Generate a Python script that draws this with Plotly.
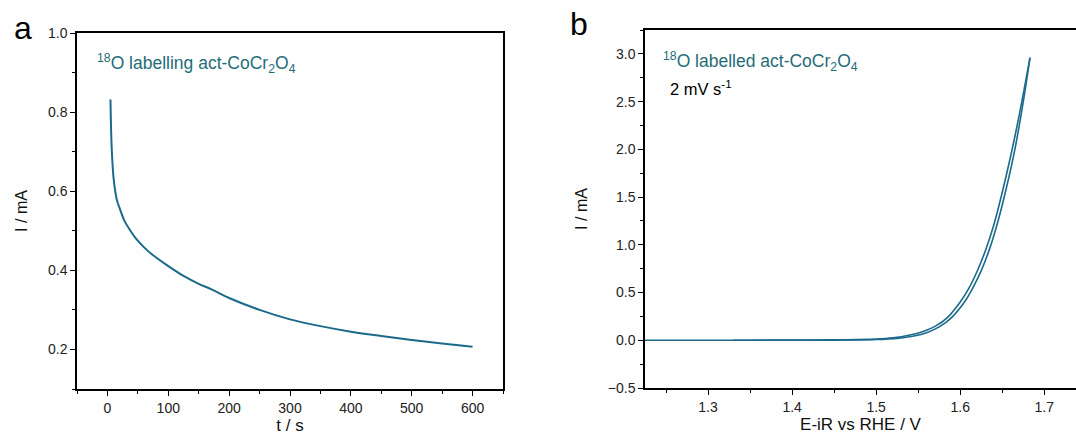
import plotly.graph_objects as go

# Chronoamperometry (panel a)
t_s = [5, 5.5, 6, 7, 8.5, 10, 12.5, 16, 21, 28, 37, 47, 59, 75, 97, 125, 150,
       171, 200, 250, 300, 350, 400, 450, 500, 550, 600]
i_ca = [0.832, 0.79, 0.755, 0.71, 0.665, 0.635, 0.603, 0.575, 0.553, 0.525,
        0.502, 0.480, 0.460, 0.438, 0.414, 0.386, 0.366, 0.352, 0.330, 0.300,
        0.276, 0.259, 0.245, 0.234, 0.224, 0.215, 0.207]

# Cyclic voltammogram (panel b): anodic sweep then return sweep
v_up = [1.225, 1.30, 1.40, 1.45, 1.50, 1.52, 1.54, 1.555, 1.57, 1.585, 1.60,
        1.61, 1.62, 1.63, 1.64, 1.65, 1.66, 1.67, 1.683]
i_up = [0.0, 0.0, 0.002, 0.004, 0.012, 0.025, 0.055, 0.09, 0.145, 0.24, 0.40,
        0.54, 0.72, 0.94, 1.21, 1.55, 1.93, 2.35, 2.96]
v_down = [1.683, 1.675, 1.665, 1.655, 1.645, 1.635, 1.625, 1.615, 1.605,
          1.59, 1.575, 1.56, 1.545, 1.525, 1.50, 1.45, 1.40, 1.33]
i_down = [2.96, 2.50, 2.00, 1.60, 1.25, 0.96, 0.73, 0.55, 0.40, 0.24, 0.14,
          0.08, 0.045, 0.02, 0.008, 0.002, 0.0, 0.0]

W, H = 1076, 446
LINE = "#1b6a8c"
TEAL = "#1f6d78"
FONT = "Liberation Sans, Arial, sans-serif"


def px_x(x):
    return x / W


def px_y(y):
    return 1 - y / H


fig = go.Figure()
fig.add_trace(go.Scatter(x=t_s, y=i_ca, mode="lines",
                         line=dict(color=LINE, width=2, shape="spline", smoothing=0.8),
                         xaxis="x", yaxis="y", showlegend=False))
fig.add_trace(go.Scatter(x=v_up, y=i_up, mode="lines",
                         line=dict(color=LINE, width=1.6, shape="spline", smoothing=0.8),
                         xaxis="x2", yaxis="y2", showlegend=False))
fig.add_trace(go.Scatter(x=v_down, y=i_down, mode="lines",
                         line=dict(color=LINE, width=1.6, shape="spline", smoothing=0.8),
                         xaxis="x2", yaxis="y2", showlegend=False))

axis_common = dict(
    showline=True, linecolor="black", linewidth=1.5, mirror=True,
    ticks="outside", ticklen=5, tickwidth=1.2, tickcolor="black",
    showgrid=False, zeroline=False,
    tickfont=dict(family=FONT, size=14, color="#222"),
    automargin=False,
)

fig.update_layout(
    width=W, height=H,
    margin=dict(l=0, r=0, t=0, b=0),
    paper_bgcolor="white", plot_bgcolor="white",
    font=dict(family=FONT, color="#111"),
    xaxis=dict(domain=[px_x(77), px_x(503)], range=[-50, 650], dtick=100,
               minor=dict(ticks="outside", ticklen=3, dtick=50, tickcolor="black"),
               title=dict(text="t / s", font=dict(size=17, family=FONT, color="#111"), standoff=5),
               anchor="y", **axis_common),
    yaxis=dict(domain=[px_y(389), px_y(33)], range=[0.1, 1.0], dtick=0.2, tick0=0.2,
               tickformat=".1f",
               minor=dict(ticks="outside", ticklen=3, dtick=0.1, tickcolor="black"),
               title=dict(text="I / mA", font=dict(size=16, family=FONT, color="#111"), standoff=16),
               anchor="x", **axis_common),
    xaxis2=dict(domain=[px_x(645), 1.0], range=[1.225, 1.7377], dtick=0.1, tick0=1.3,
                tickformat=".1f",
                minor=dict(ticks="outside", ticklen=3, dtick=0.05, tickcolor="black"),
                title=dict(text="E-iR vs RHE / V", font=dict(size=17, family=FONT, color="#111"), standoff=5),
                anchor="y2", **axis_common),
    yaxis2=dict(domain=[px_y(388), px_y(30)], range=[-0.5, 3.25], dtick=0.5, tick0=0,
                tickformat=".1f",
                minor=dict(ticks="outside", ticklen=3, dtick=0.25, tickcolor="black"),
                title=dict(text="I / mA", font=dict(size=16, family=FONT, color="#111"), standoff=16),
                anchor="x2", **axis_common),
)

ann = [
    dict(text="a", x=px_x(12), y=px_y(28), font=dict(size=32, family=FONT, color="black"),
         xanchor="left", yanchor="middle"),
    dict(text="b", x=px_x(568), y=px_y(24), font=dict(size=32, family=FONT, color="black"),
         xanchor="left", yanchor="middle"),
    dict(text="<sup>18</sup>O labelling act-CoCr<sub>2</sub>O<sub>4</sub>",
         x=px_x(95), y=px_y(64), font=dict(size=17.5, family=FONT, color=TEAL),
         xanchor="left", yanchor="middle"),
    dict(text="<sup>18</sup>O labelled act-CoCr<sub>2</sub>O<sub>4</sub>",
         x=px_x(661), y=px_y(61), font=dict(size=17.5, family=FONT, color=TEAL),
         xanchor="left", yanchor="middle"),
    dict(text="2 mV s<sup>-1</sup>",
         x=px_x(668), y=px_y(88), font=dict(size=16.5, family=FONT, color="black"),
         xanchor="left", yanchor="middle"),
]
for a in ann:
    fig.add_annotation(xref="paper", yref="paper", showarrow=False, **a)

fig.write_html("out.html")
